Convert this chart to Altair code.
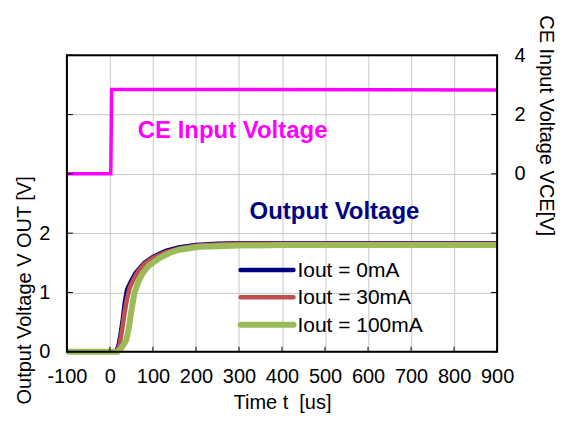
import altair as alt
import pandas as pd

# ---- data ----
ce_t = [-100, 2, 4, 900]
ce_v = [0.0, 0.0, 2.85, 2.83]

blue_t = [-100, 14, 20, 25, 30, 35, 40, 50, 60, 80, 100, 130, 160, 200, 250, 300, 400, 500, 600, 700, 800, 900]
blue_v = [0, 0, 0.1, 0.3, 0.55, 0.85, 1.05, 1.2, 1.33, 1.5, 1.6, 1.7, 1.76, 1.8, 1.82, 1.83, 1.83, 1.83, 1.83, 1.83, 1.83, 1.83]

red_t = [-100, 16, 22, 28, 34, 40, 46, 55, 65, 80, 100, 130, 160, 200, 250, 300, 400, 500, 600, 700, 800, 900]
red_v = [0, 0, 0.1, 0.35, 0.65, 0.9, 1.08, 1.22, 1.35, 1.48, 1.58, 1.68, 1.74, 1.79, 1.81, 1.82, 1.82, 1.82, 1.82, 1.82, 1.82, 1.82]

green_t = [-100, 18, 25, 32, 38, 44, 49, 57, 66, 76, 90, 115, 140, 161, 208, 250, 300, 400, 500, 600, 700, 800, 900]
green_v = [0, 0, 0.05, 0.12, 0.2, 0.4, 0.65, 0.99, 1.18, 1.32, 1.45, 1.58, 1.67, 1.72, 1.77, 1.78, 1.79, 1.8, 1.8, 1.8, 1.8, 1.8, 1.8]

series_names = ["Iout = 0mA", "Iout = 30mA", "Iout = 100mA"]
series_colors = ["#000080", "#C0504D", "#9BBB59"]
series_widths = [4.5, 4.5, 6]

x_ticks = [-100, 0, 100, 200, 300, 400, 500, 600, 700, 800, 900]
left_ticks = [0, 1, 2, 3, 4, 5]
right_ticks = [-6, -4, -2, 0, 2, 4]

FONT = "Liberation Sans"
FS = 20
W, H = 431, 297

rows = []
for name, ts, vs in zip(series_names, [blue_t, red_t, green_t], [blue_v, red_v, green_v]):
    for t, v in zip(ts, vs):
        rows.append({"series": name, "t": t, "v": v})
out_df = pd.DataFrame(rows)
ce_df = pd.DataFrame({"t": ce_t, "v": ce_v})

x_scale = alt.Scale(domain=[-100, 900], nice=False)
x_enc = alt.X("t:Q", scale=x_scale,
              axis=alt.Axis(values=x_ticks, title="Time t\u00a0 [us]", grid=True,
                            gridColor="#c8c8c8", tickSize=0, labelPadding=15,
                            titlePadding=6, domain=False, labelFlush=False,
                            labelOverlap=False,
                            labelExpr="datum.value < 0 ? '-' + abs(datum.value) : datum.label"))

left_scale = alt.Scale(domain=[0, 5], nice=False)
right_scale = alt.Scale(domain=[-6, 4], nice=False)

out_layers = []
for name, col, w in zip(series_names, series_colors, series_widths):
    out_layers.append(
        alt.Chart(out_df[out_df.series == name]).mark_line(color=col, strokeWidth=w).encode(
            x=x_enc,
            y=alt.Y("v:Q", scale=left_scale,
                    axis=alt.Axis(values=left_ticks, title="Output Voltage V OUT [V]",
                                  labelExpr="datum.value <= 2 ? datum.label : ''",
                                  grid=True, gridColor="#c8c8c8", tickSize=0,
                                  labelPadding=17, domain=False, labelFlush=False,
                                  titleY=235, titleX=-32))
        )
    )
outputs = alt.layer(*out_layers)

ce = alt.Chart(ce_df).mark_line(color="#FF00FF", strokeWidth=3.5).encode(
    x=x_enc,
    y=alt.Y("v:Q", scale=right_scale,
            axis=alt.Axis(values=right_ticks, title="CE Input Voltage VCE[V]", orient="right",
                          labelExpr="datum.value >= 0 ? datum.label : ''",
                          grid=False, tickSize=0, labelPadding=17, domain=False,
                          labelFlush=False, titleY=70, titleX=38))
)

# inward tick marks
xt_df = pd.DataFrame({"t": x_ticks})
xt = alt.Chart(xt_df).mark_rule(color="black", strokeWidth=1).encode(
    x=alt.X("t:Q", scale=x_scale),
    y=alt.value(H), y2=alt.value(H - 5))

lt_df = pd.DataFrame({"v": left_ticks})
lt = alt.Chart(lt_df).mark_rule(color="black", strokeWidth=1).encode(
    y=alt.Y("v:Q", scale=left_scale, axis=None),
    x=alt.value(0), x2=alt.value(6))

rt_df = pd.DataFrame({"v": right_ticks})
rt = alt.Chart(rt_df).mark_rule(color="black", strokeWidth=1).encode(
    y=alt.Y("v:Q", scale=right_scale, axis=None),
    x=alt.value(W - 6), x2=alt.value(W))

# plot frame drawn on top of grid
frame = alt.Chart(pd.DataFrame({"a": [0]})).mark_rect(
    fillOpacity=0, stroke="black", strokeWidth=2
).encode(x=alt.value(0), x2=alt.value(W), y=alt.value(0), y2=alt.value(H))

# annotations
ann_ce = alt.Chart(pd.DataFrame({"label": ["CE Input Voltage"]})).mark_text(
    font=FONT, fontSize=24, fontWeight="bold", color="#FF00FF", align="left", baseline="middle"
).encode(text="label:N", x=alt.value(71), y=alt.value(76))

ann_out = alt.Chart(pd.DataFrame({"label": ["Output Voltage"]})).mark_text(
    font=FONT, fontSize=24, fontWeight="bold", color="#000080", align="left", baseline="middle"
).encode(text="label:N", x=alt.value(183), y=alt.value(157))

# manual legend
leg_df = pd.DataFrame({"series": series_names})
leg_layers = []
for i, (name, col, w) in enumerate(zip(series_names, series_colors, series_widths)):
    yy = 215 + 27.5 * i
    d = leg_df[leg_df.series == name]
    leg_layers.append(alt.Chart(d).mark_rule(color=col, strokeWidth=w, strokeCap="round").encode(
        x=alt.value(174), x2=alt.value(227), y=alt.value(yy)))
    leg_layers.append(alt.Chart(d).mark_text(
        font=FONT, fontSize=21, color="black", align="left", baseline="middle"
    ).encode(text="series:N", x=alt.value(231), y=alt.value(yy + 1)))

chart = alt.layer(outputs, ce, xt, lt, rt, frame, ann_ce, ann_out, *leg_layers).resolve_scale(
    y="independent"
).properties(
    width=W, height=H,
    autosize=alt.AutoSizeParams(type="none"),
    padding={"left": 59, "top": 47, "right": 60, "bottom": 64},
    background="white"
).configure_view(
    stroke=None
).configure_axis(
    labelFont=FONT, titleFont=FONT, labelFontSize=FS, titleFontSize=FS,
    labelColor="black", titleColor="black", titleFontWeight="normal"
)

chart.save("out.html", embed_options={"renderer": "svg", "actions": False})
